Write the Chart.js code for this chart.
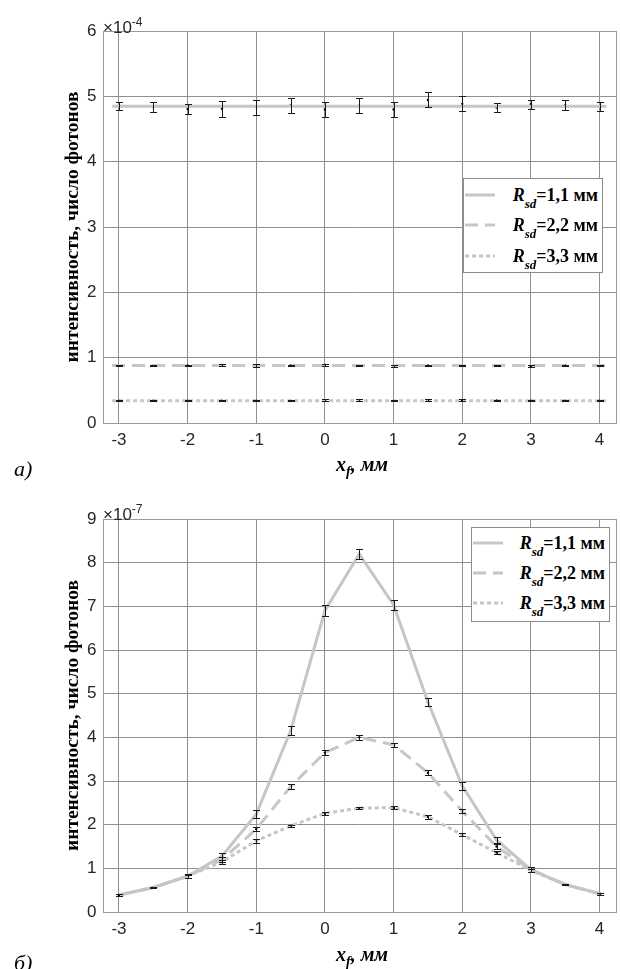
<!DOCTYPE html>
<html>
<head>
<meta charset="utf-8">
<script src="https://cdn.jsdelivr.net/npm/chart.js@4.4.0/dist/chart.umd.min.js"></script>
<style>
  body { margin: 0; background: #fff; width: 620px; height: 969px; position: relative; overflow: hidden; }
  canvas { position: absolute; left: 0; }
  #chartA { top: 0; }
  #chartB { top: 488px; }
  .serif { position: absolute; font-family: "Liberation Serif", "Times New Roman", serif; white-space: nowrap; color: #000; }
  .xtitle { font-size: 20px; line-height: 20px; font-weight: bold; font-style: italic; transform: translateX(-50%); }
  .xtitle sub { font-size: 14px; vertical-align: -5px; }
  .panel { font-size: 22px; line-height: 22px; font-style: italic; }
  .expo { position: absolute; font-family: "Liberation Sans", Arial, sans-serif; font-size: 17px; line-height: 17px; color: #262626; white-space: nowrap; }
  .expo sup { font-size: 12px; vertical-align: 7px; }
  .legend { position: absolute; background: #fff; border: 1px solid #8c8c8c; box-sizing: border-box; }
  .legend svg { position: absolute; left: 0; top: 0; }
  .entry { position: absolute; right: 4px; font-family: "Liberation Serif", "Times New Roman", serif; font-size: 18px; line-height: 18px; font-weight: bold; white-space: nowrap; }
  .entry i sub { font-size: 13px; vertical-align: -7px; }
</style>
</head>
<body>
<canvas id="chartA" width="620" height="480"></canvas>
<canvas id="chartB" width="620" height="481"></canvas>

<div class="expo" style="left:103px;top:14px">×10<sup>-4</sup></div>
<div class="expo" style="left:103px;top:501px">×10<sup>-7</sup></div>
<div class="serif xtitle" style="left:362px;top:454px">x<sub>f</sub>, мм</div>
<div class="serif xtitle" style="left:362px;top:944px">x<sub>f</sub>, мм</div>
<div class="serif panel" style="left:14px;top:458px">а)</div>
<div class="serif panel" style="left:14px;top:952px">б)</div>
<div class="legend" id="legendA" style="left:463px;top:178px;width:140px;height:95px"></div>
<div class="legend" id="legendB" style="left:471px;top:527px;width:139px;height:95px"></div>

<script>
// positions of the measurements, mm
const xPos = [-3, -2.5, -2, -1.5, -1, -0.5, 0, 0.5, 1, 1.5, 2, 2.5, 3, 3.5, 4];
const xTicks = [-3, -2, -1, 0, 1, 2, 3, 4];
const yTicksA = [0, 1, 2, 3, 4, 5, 6];
const yTicksB = [0, 1, 2, 3, 4, 5, 6, 7, 8, 9];
const rsdNames = ["1,1", "2,2", "3,3"];

// panel a, units of 1e-4
const meanA1 = [4.85, 4.835, 4.805, 4.81, 4.835, 4.86, 4.80, 4.855, 4.80, 4.945, 4.885, 4.83, 4.88, 4.865, 4.85];
const errA1 = [0.06, 0.075, 0.075, 0.12, 0.115, 0.12, 0.11, 0.115, 0.11, 0.115, 0.115, 0.07, 0.07, 0.075, 0.07];
const meanA2 = [0.88, 0.88, 0.88, 0.89, 0.88, 0.88, 0.89, 0.88, 0.87, 0.88, 0.88, 0.88, 0.87, 0.88, 0.88];
const errA2 = [0.015, 0.015, 0.015, 0.02, 0.02, 0.015, 0.02, 0.015, 0.02, 0.015, 0.015, 0.015, 0.015, 0.015, 0.015];
const meanA3 = [0.34, 0.34, 0.34, 0.34, 0.34, 0.34, 0.35, 0.35, 0.34, 0.35, 0.35, 0.345, 0.34, 0.34, 0.34];
const errA3 = [0.01, 0.01, 0.01, 0.01, 0.01, 0.01, 0.01, 0.01, 0.01, 0.01, 0.01, 0.005, 0.01, 0.01, 0.01];
const fitXA = [-3.1, 4.1];
const fitA1 = [4.85, 4.85];
const fitA2 = [0.88, 0.88];
const fitA3 = [0.34, 0.34];

// panel b, units of 1e-7
const meanB1 = [0.39, 0.56, 0.82, 1.28, 2.24, 4.15, 6.90, 8.20, 7.03, 4.81, 2.89, 1.65, 0.97, 0.63, 0.42];
const errB1 = [0.02, 0.02, 0.04, 0.08, 0.09, 0.1, 0.12, 0.12, 0.11, 0.1, 0.09, 0.06, 0.05, 0.02, 0.02];
const meanB2 = [0.39, 0.56, 0.82, 1.20, 1.90, 2.87, 3.65, 4.00, 3.83, 3.19, 2.31, 1.50, 0.97, 0.63, 0.42];
const errB2 = [0.02, 0.02, 0.03, 0.05, 0.05, 0.05, 0.06, 0.05, 0.05, 0.06, 0.05, 0.05, 0.05, 0.02, 0.02];
const meanB3 = [0.39, 0.56, 0.82, 1.15, 1.63, 1.97, 2.26, 2.38, 2.39, 2.18, 1.77, 1.36, 0.95, 0.63, 0.42];
const errB3 = [0.02, 0.02, 0.03, 0.05, 0.04, 0.03, 0.04, 0.03, 0.04, 0.04, 0.04, 0.03, 0.04, 0.02, 0.02];

const lineGray = "#c6c6c6";
const gridColor = "#8f8f8f";
const dashes = [[], [13, 7], [4, 3]];

Chart.defaults.font.family = '"Liberation Sans", Arial, sans-serif';

function toPoints(xs, ys) {
  return xs.map((x, i) => ({ x: x, y: ys[i] }));
}

function makeErrorPlugin(sets) {
  return {
    id: "errorBars",
    afterDatasetsDraw(chart) {
      const ctx = chart.ctx;
      const xs = chart.scales.x;
      const ys = chart.scales.y;
      ctx.save();
      ctx.strokeStyle = "#1a1a1a";
      ctx.lineWidth = 1;
      sets.forEach((set) => {
        set.mean.forEach((m, i) => {
          const px = Math.round(xs.getPixelForValue(xPos[i])) + 0.5;
          const top = Math.round(ys.getPixelForValue(m + set.err[i])) + 0.5;
          const bot = Math.round(ys.getPixelForValue(m - set.err[i])) + 0.5;
          ctx.beginPath();
          ctx.moveTo(px, top);
          ctx.lineTo(px, bot);
          ctx.moveTo(px - 3.5, top);
          ctx.lineTo(px + 3.5, top);
          ctx.moveTo(px - 3.5, bot);
          ctx.lineTo(px + 3.5, bot);
          ctx.stroke();
        });
      });
      ctx.restore();
    },
  };
}

const framePlugin = {
  id: "frame",
  beforeDatasetsDraw(chart) {
    const a = chart.chartArea;
    const ctx = chart.ctx;
    ctx.save();
    ctx.strokeStyle = "#9a9a9a";
    ctx.lineWidth = 1;
    ctx.strokeRect(Math.round(a.left) + 0.5, Math.round(a.top) + 0.5, Math.round(a.right - a.left) - 1, Math.round(a.bottom - a.top));
    ctx.restore();
  },
};

function lineDataset(points, dash) {
  return {
    type: "line",
    data: points,
    borderColor: lineGray,
    borderWidth: 3,
    borderDash: dash,
    pointRadius: 0,
    tension: 0,
    fill: false,
  };
}

function meanDataset(means) {
  return {
    type: "scatter",
    data: toPoints(xPos, means),
    backgroundColor: "#000",
    borderColor: "#000",
    pointRadius: 1.2,
    borderWidth: 0,
  };
}

function makeChart(id, lines, sets, yTicks, yMax) {
  let datasets = [];
  lines.forEach((pts, i) => datasets.push(lineDataset(pts, dashes[i])));
  sets.forEach((s) => datasets.push(meanDataset(s.mean)));

  return new Chart(document.getElementById(id), {
    type: "scatter",
    data: { datasets: datasets },
    plugins: [framePlugin, makeErrorPlugin(sets)],
    options: {
      responsive: false,
      animation: false,
      devicePixelRatio: 1,
      layout: { padding: { top: 31, right: 2, left: 0, bottom: 0 } },
      plugins: { legend: { display: false }, tooltip: { enabled: false } },
      scales: {
        x: {
          type: "linear",
          min: -3.24,
          max: 4.24,
          afterBuildTicks: (s) => { s.ticks = xTicks.map((v) => ({ value: v })); },
          afterFit: (s) => { s.height = 57; },
          grid: { color: gridColor, lineWidth: 1, drawTicks: false },
          border: { display: false },
          ticks: { font: { size: 17 }, color: "#262626", padding: 7, maxRotation: 0 },
        },
        y: {
          type: "linear",
          min: 0,
          max: yMax,
          afterBuildTicks: (s) => { s.ticks = yTicks.map((v) => ({ value: v })); },
          afterFit: (s) => { s.width = 102.5; },
          grid: { color: gridColor, lineWidth: 1, drawTicks: false },
          border: { display: false },
          ticks: { font: { size: 17 }, color: "#262626", padding: 6 },
          title: {
            display: true,
            text: "интенсивность, число фотонов",
            color: "#000",
            font: { family: '"Liberation Serif", serif', size: 19.5, weight: "bold" },
            padding: { top: 61, bottom: 0 },
          },
        },
      },
    },
  });
}

function buildLegend(id, rows) {
  const box = document.getElementById(id);
  const w = box.offsetWidth;
  let svg = '<svg width="' + w + '" height="95">';
  rows.forEach((yy, i) => {
    let dash = dashes[i].length ? ' stroke-dasharray="' + dashes[i].join(" ") + '"' : "";
    svg += '<line x1="1" x2="31" y1="' + yy + '" y2="' + yy + '" stroke="' + lineGray + '" stroke-width="3"' + dash + "/>";
  });
  svg += "</svg>";
  let html = svg;
  rows.forEach((yy, i) => {
    html += '<div class="entry" style="top:' + (yy - 9) + 'px"><i>R<sub>sd</sub></i>=' + rsdNames[i] + " мм</div>";
  });
  box.innerHTML = html;
}

makeChart(
  "chartA",
  [toPoints(fitXA, fitA1), toPoints(fitXA, fitA2), toPoints(fitXA, fitA3)],
  [
    { mean: meanA1, err: errA1 },
    { mean: meanA2, err: errA2 },
    { mean: meanA3, err: errA3 },
  ],
  yTicksA,
  6
);

makeChart(
  "chartB",
  [toPoints(xPos, meanB1), toPoints(xPos, meanB2), toPoints(xPos, meanB3)],
  [
    { mean: meanB1, err: errB1 },
    { mean: meanB2, err: errB2 },
    { mean: meanB3, err: errB3 },
  ],
  yTicksB,
  9
);

buildLegend("legendA", [16, 46, 77]);
buildLegend("legendB", [15, 45, 75]);
</script>
</body>
</html>
